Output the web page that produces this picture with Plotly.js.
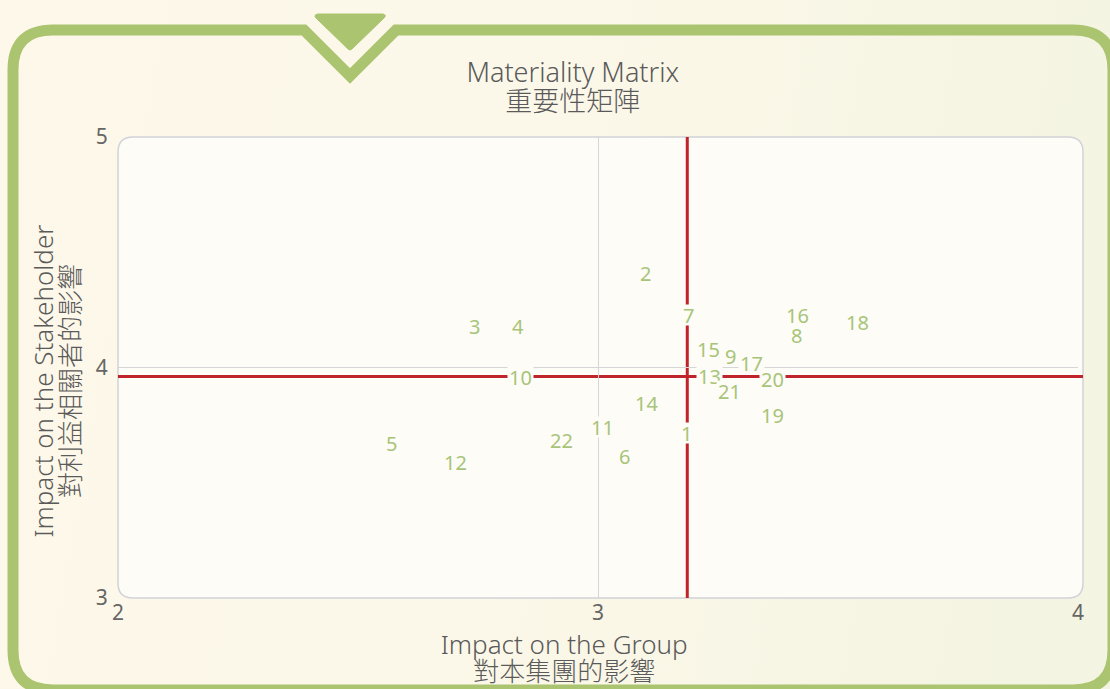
<!DOCTYPE html>
<html>
<head>
<meta charset="utf-8">
<script src="https://cdn.plot.ly/plotly-3.0.1.min.js"></script>
<style>
  html, body { margin: 0; padding: 0; }
  body {
    width: 1110px; height: 689px; overflow: hidden;
    background: linear-gradient(100deg, #fdf8e9 0%, #fcf8e9 45%, #f6f5e4 80%, #f4f4e3 100%);
  }
  #chart { width: 1110px; height: 689px; }
</style>
</head>
<body>
<div id="chart"></div>
<script>
// ---- data ----
const issueLabels = ['1','2','3','4','5','6','7','8','9','10','11','12','13','14','15','16','17','18','19','20','21','22'];
const impactOnGroup = [3.185, 3.099, 2.742, 2.834, 2.570, 3.056, 3.189, 3.414, 3.275, 2.838, 3.010, 2.704, 3.232, 3.101, 3.231, 3.416, 3.319, 3.540, 3.364, 3.363, 3.274, 2.924];
const impactOnStakeholder = [3.718, 4.410, 4.181, 4.181, 3.672, 3.614, 4.229, 4.142, 4.048, 3.957, 3.744, 3.589, 3.964, 3.846, 4.080, 4.226, 4.019, 4.197, 3.792, 3.950, 3.896, 3.686];
const groupThreshold = [3.186];
const stakeholderThreshold = [3.961];
const xTickVals = [2, 3, 4];
const yTickVals = [3, 4, 5];
const titleLines = ['Materiality Matrix', '重要性矩陣'];
const xTitleLines = ['Impact on the Group', '對本集團的影響'];
const yTitleLines = ['Impact on the Stakeholder', '對利益相關者的影響'];

// ---- layout helpers (pixel -> paper) ----
const W = 1110, H = 689;
const M = {l: 118, r: 32, t: 137, b: 91};
const PW = W - M.l - M.r, PH = H - M.t - M.b;
function P(px, py) {
  return ((px - M.l) / PW).toFixed(5) + ',' + ((H - M.b - py) / PH).toFixed(5);
}
function roundRect(x0, y0, x1, y1, r) {
  return 'M' + P(x0 + r, y0) + ' L' + P(x1 - r, y0) + ' Q' + P(x1, y0) + ' ' + P(x1, y0 + r) +
    ' L' + P(x1, y1 - r) + ' Q' + P(x1, y1) + ' ' + P(x1 - r, y1) +
    ' L' + P(x0 + r, y1) + ' Q' + P(x0, y1) + ' ' + P(x0, y1 - r) +
    ' L' + P(x0, y0 + r) + ' Q' + P(x0, y0) + ' ' + P(x0 + r, y0) + ' Z';
}
function bigLines(lines, px, pad) {
  const sp = '&nbsp;'.repeat(pad || 0);
  return lines.map(l => '<span style="font-size:' + px + 'px">' + l + sp + '</span>').join('<br>');
}
const green = '#abc46f';
const frame = 'M' + P(13, 650) + ' L' + P(13, 70) + ' Q' + P(13, 30) + ' ' + P(53, 30) +
  ' L' + P(304, 30) + ' L' + P(350, 76) + ' L' + P(396, 30) +
  ' L' + P(1073, 30) + ' Q' + P(1113, 30) + ' ' + P(1113, 70) +
  ' L' + P(1113, 650) + ' Q' + P(1113, 690) + ' ' + P(1073, 690) +
  ' L' + P(53, 690) + ' Q' + P(13, 690) + ' ' + P(13, 650) + ' Z';
const tri = 'M' + P(318, 14) + ' L' + P(383, 14) + ' Q' + P(387, 15) + ' ' + P(384, 18) +
  ' L' + P(352, 49) + ' Q' + P(350, 51) + ' ' + P(348, 49) +
  ' L' + P(316, 18) + ' Q' + P(313, 15) + ' ' + P(318, 14) + ' Z';

const font = 'Noto Sans, Noto Sans CJK TC, sans-serif';
const plotBg = '#fdfcf6';

const shapes = [
  {type: 'path', xref: 'paper', yref: 'paper', path: roundRect(118, 137, 1083, 598, 15),
   fillcolor: plotBg, line: {color: '#d2d2d8', width: 1.5}, layer: 'below'},
  {type: 'path', xref: 'paper', yref: 'paper', path: frame,
   fillcolor: 'rgba(0,0,0,0)', line: {color: green, width: 11}, layer: 'above'},
  {type: 'path', xref: 'paper', yref: 'paper', path: tri,
   fillcolor: green, line: {color: green, width: 1}, layer: 'above'},
  {type: 'line', xref: 'x', yref: 'paper', x0: groupThreshold[0], x1: groupThreshold[0], y0: 0, y1: 1,
   line: {color: '#c1232b', width: 3}, layer: 'between'},
  {type: 'line', xref: 'paper', yref: 'y', x0: 0, x1: (1083 - M.l) / PW,
   y0: stakeholderThreshold[0], y1: stakeholderThreshold[0],
   line: {color: '#c1232b', width: 3}, layer: 'between'}
];

const annotations = issueLabels.map((t, i) => ({
  x: impactOnGroup[i], y: impactOnStakeholder[i], xref: 'x', yref: 'y',
  text: t, showarrow: false, bgcolor: plotBg, borderpad: 1, height: 18,
  font: {family: font, size: 20, color: '#a8c47a'}
}));

const trace = {
  type: 'scatter', mode: 'markers',
  x: impactOnGroup, y: impactOnStakeholder, text: issueLabels,
  marker: {size: 1, color: 'rgba(0,0,0,0)'}, hoverinfo: 'text', showlegend: false
};

const layout = {
  width: W, height: H,
  margin: M,
  paper_bgcolor: 'rgba(0,0,0,0)',
  plot_bgcolor: 'rgba(0,0,0,0)',
  font: {family: font, color: '#5e5e5e'},
  title: {text: bigLines(titleLines, 27), xref: 'container', yref: 'container', x: 0.516, y: 1 - 82 / H,
          xanchor: 'center', yanchor: 'middle',
          font: {family: font, size: 22, color: '#5a5a5a', weight: 300}},
  xaxis: {range: [2, 4], tickvals: xTickVals, ticks: '',
          showgrid: true, gridcolor: '#d6d6d6', gridwidth: 1, zeroline: false, showline: false,
          tickfont: {family: font, size: 21, color: '#666666'},
          title: {text: bigLines(xTitleLines, 26, 10), standoff: 0, font: {family: font, size: 21, color: '#5a5a5a', weight: 300}}},
  yaxis: {range: [3, 5], tickvals: yTickVals, ticks: 'outside', ticklen: 5, tickcolor: 'rgba(0,0,0,0)',
          showgrid: true, gridcolor: '#d6d6d6', gridwidth: 1, zeroline: false, showline: false,
          tickfont: {family: font, size: 21, color: '#666666'},
          title: {text: bigLines(yTitleLines, 26, 4), standoff: 9, font: {family: font, size: 21, color: '#5a5a5a', weight: 300}}},
  shapes: shapes,
  annotations: annotations
};

Plotly.newPlot('chart', [trace], layout, {staticPlot: true, displayModeBar: false});
</script>
</body>
</html>
